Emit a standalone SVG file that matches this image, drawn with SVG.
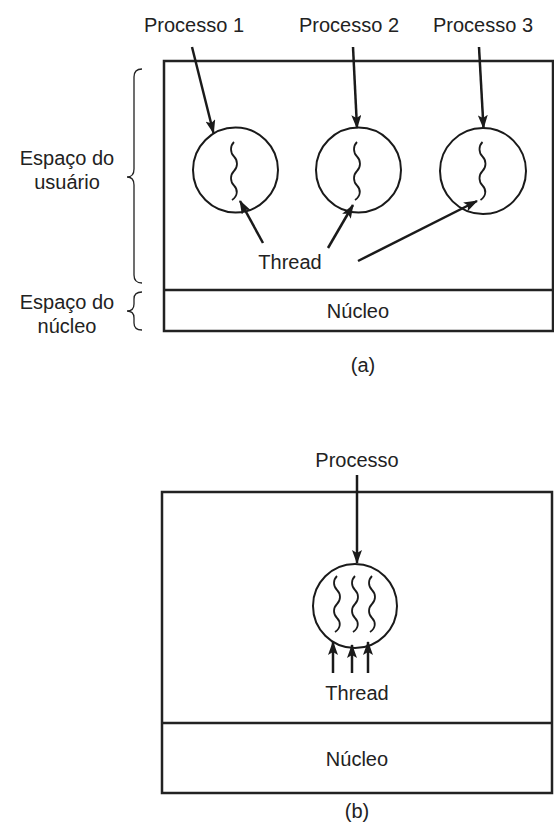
<svg xmlns="http://www.w3.org/2000/svg" width="554" height="833" viewBox="0 0 554 833">
<defs>
<marker id="ah" markerUnits="userSpaceOnUse" markerWidth="14" markerHeight="10" refX="13" refY="5" orient="auto">
<path d="M0,0 L14,5 L0,10 L3,5 Z" fill="#1a1a1a"/>
</marker>
</defs>
<style>
.box{fill:none;stroke:#222;stroke-width:2.5}
.circ{fill:none;stroke:#1a1a1a;stroke-width:2}
.wave{fill:none;stroke:#1a1a1a;stroke-width:1.8}
.arr{fill:none;stroke:#1a1a1a;stroke-width:2.5;marker-end:url(#ah)}
.brace{fill:none;stroke:#222;stroke-width:1.3}
text{font-family:"Liberation Sans",Arial,sans-serif;font-size:20px;fill:#222;text-anchor:middle}
</style>
<rect width="554" height="833" fill="#fff"/>

<g id="box-a">
<rect class="box" x="164" y="61" width="389" height="270"/>
<line class="box" x1="164" y1="290" x2="553" y2="290"/>
<text x="358" y="318">Núcleo</text>
</g>
<g id="label-a"><text x="363" y="372">(a)</text></g>

<g id="brace-user">
<path class="brace" d="M142,69 Q134,69 134,77 L134,169 Q134,177 127,177 Q134,177 134,185 L134,275 Q134,283 142,283"/>
<text x="67" y="165">Espaço do</text>
<text x="67" y="189">usuário</text>
</g>
<g id="brace-kernel">
<path class="brace" d="M142,292 Q134,292 134,299 L134,304 Q134,311 127,311 Q134,311 134,318 L134,323 Q134,330 142,330"/>
<text x="67" y="309">Espaço do</text>
<text x="67" y="333">núcleo</text>
</g>

<g id="proc1">
<text x="194" y="32">Processo 1</text>
<circle class="circ" cx="235.5" cy="170" r="42.5"/>
<path class="wave" d="M234,142 c-4,4 -4,10.5 0,14.5 c4,4 4,10.5 0,14.5 c-4,4 -4,10.5 0,14.5 c4,4 4,10.5 -2,14.5"/>
</g>
<g id="proc2">
<text x="349" y="32">Processo 2</text>
<circle class="circ" cx="358.5" cy="170" r="42.5"/>
<path class="wave" d="M357,142 c-4,4 -4,10.5 0,14.5 c4,4 4,10.5 0,14.5 c-4,4 -4,10.5 0,14.5 c4,4 4,10.5 -2,14.5"/>
</g>
<g id="proc3">
<text x="483" y="32">Processo 3</text>
<circle class="circ" cx="483" cy="171" r="43"/>
<path class="wave" d="M482.5,142 c-4,4 -4,10.5 0,14.5 c4,4 4,10.5 0,14.5 c-4,4 -4,10.5 0,14.5 c4,4 4,10.5 -2,14.5"/>
</g>
<g id="thread-a"><text x="290" y="269">Thread</text></g>

<g id="box-b">
<rect class="box" x="162" y="492" width="390" height="301"/>
<line class="box" x1="162" y1="723" x2="552" y2="723"/>
<text x="357" y="766">Núcleo</text>
</g>
<g id="proc-b">
<text x="357" y="467">Processo</text>
<circle class="circ" cx="355" cy="606" r="42"/>
<path class="wave" d="M337,576 c-4,4 -4,10 0,14 c4,4 4,10 0,14 c-4,4 -4,10 0,14 c4,4 4,10 -2,14"/>
<path class="wave" d="M355,576 c-4,4 -4,10 0,14 c4,4 4,10 0,14 c-4,4 -4,10 0,14 c4,4 4,10 -2,14"/>
<path class="wave" d="M372,576 c-4,4 -4,10 0,14 c4,4 4,10 0,14 c-4,4 -4,10 0,14 c4,4 4,10 -2,14"/>
<text x="357" y="700">Thread</text>
</g>
<g id="label-b"><text x="357" y="818">(b)</text></g>

<g id="connectors">
<line class="arr" x1="192" y1="47" x2="213.5" y2="133"/>
<line class="arr" x1="353" y1="47" x2="357" y2="128"/>
<line class="arr" x1="479" y1="47" x2="483.5" y2="128"/>
<line class="arr" x1="263" y1="243" x2="240" y2="201"/>
<line class="arr" x1="328" y1="248" x2="353" y2="205"/>
<line class="arr" x1="358" y1="261" x2="477" y2="201"/>
<line class="arr" x1="357" y1="475" x2="357" y2="563"/>
<line class="arr" x1="333" y1="673" x2="333" y2="642"/>
<line class="arr" x1="352" y1="673" x2="352" y2="645"/>
<line class="arr" x1="368" y1="673" x2="368" y2="642"/>
</g>
</svg>
